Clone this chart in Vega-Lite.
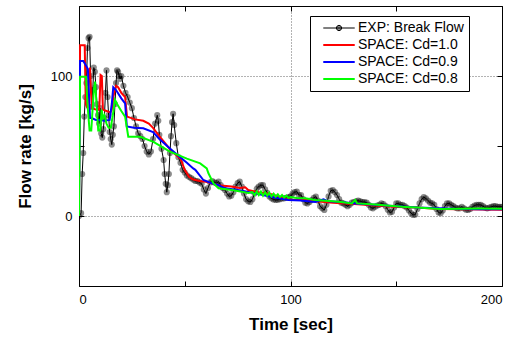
{
  "$schema": "https://vega.github.io/schema/vega-lite/v6.json",
  "width": 423,
  "height": 280,
  "autosize": "none",
  "padding": {"left": 79, "top": 6, "right": 17, "bottom": 51},
  "background": "white",
  "config": {
    "font": "Liberation Sans",
    "view": {"stroke": null},
    "axis": {
      "labelFont": "Liberation Sans",
      "labelFontSize": 13,
      "labelColor": "black",
      "titleFont": "Liberation Sans",
      "titleFontSize": 17,
      "titleFontWeight": "bold",
      "titleColor": "black",
      "domainColor": "black",
      "domainWidth": 1,
      "tickColor": "black",
      "tickSize": -5,
      "gridColor": "#666666",
      "gridDash": [1, 2],
      "gridWidth": 1
    },
    "legend": {
      "labelFont": "Liberation Sans",
      "labelFontSize": 14,
      "labelColor": "black"
    }
  },
  "datasets": {
    "exp": [
      {"t": 0, "y": 0, "series": "EXP: Break Flow"},
      {"t": 1, "y": 2, "series": "EXP: Break Flow"},
      {"t": 1.5, "y": 30, "series": "EXP: Break Flow"},
      {"t": 2, "y": 45, "series": "EXP: Break Flow"},
      {"t": 2.5, "y": 71, "series": "EXP: Break Flow"},
      {"t": 3, "y": 85, "series": "EXP: Break Flow"},
      {"t": 3.5, "y": 95, "series": "EXP: Break Flow"},
      {"t": 4, "y": 120, "series": "EXP: Break Flow"},
      {"t": 4.5, "y": 127, "series": "EXP: Break Flow"},
      {"t": 5, "y": 128, "series": "EXP: Break Flow"},
      {"t": 5.5, "y": 100, "series": "EXP: Break Flow"},
      {"t": 6, "y": 78, "series": "EXP: Break Flow"},
      {"t": 6.5, "y": 90, "series": "EXP: Break Flow"},
      {"t": 7, "y": 106, "series": "EXP: Break Flow"},
      {"t": 7.5, "y": 103, "series": "EXP: Break Flow"},
      {"t": 8, "y": 92, "series": "EXP: Break Flow"},
      {"t": 8.5, "y": 80, "series": "EXP: Break Flow"},
      {"t": 9, "y": 72, "series": "EXP: Break Flow"},
      {"t": 9.5, "y": 66, "series": "EXP: Break Flow"},
      {"t": 10, "y": 77, "series": "EXP: Break Flow"},
      {"t": 10.5, "y": 59, "series": "EXP: Break Flow"},
      {"t": 11, "y": 56, "series": "EXP: Break Flow"},
      {"t": 11.5, "y": 62, "series": "EXP: Break Flow"},
      {"t": 12, "y": 70, "series": "EXP: Break Flow"},
      {"t": 12.5, "y": 88, "series": "EXP: Break Flow"},
      {"t": 13, "y": 104, "series": "EXP: Break Flow"},
      {"t": 13.5, "y": 85, "series": "EXP: Break Flow"},
      {"t": 14, "y": 72, "series": "EXP: Break Flow"},
      {"t": 14.5, "y": 60, "series": "EXP: Break Flow"},
      {"t": 15, "y": 55, "series": "EXP: Break Flow"},
      {"t": 15.5, "y": 51, "series": "EXP: Break Flow"},
      {"t": 16, "y": 58, "series": "EXP: Break Flow"},
      {"t": 16.5, "y": 64, "series": "EXP: Break Flow"},
      {"t": 17, "y": 80, "series": "EXP: Break Flow"},
      {"t": 17.5, "y": 95, "series": "EXP: Break Flow"},
      {"t": 18, "y": 104, "series": "EXP: Break Flow"},
      {"t": 18.5, "y": 103, "series": "EXP: Break Flow"},
      {"t": 19, "y": 100, "series": "EXP: Break Flow"},
      {"t": 19.5, "y": 98, "series": "EXP: Break Flow"},
      {"t": 20, "y": 100, "series": "EXP: Break Flow"},
      {"t": 21, "y": 93, "series": "EXP: Break Flow"},
      {"t": 22, "y": 88, "series": "EXP: Break Flow"},
      {"t": 23, "y": 85, "series": "EXP: Break Flow"},
      {"t": 24, "y": 81, "series": "EXP: Break Flow"},
      {"t": 25, "y": 77, "series": "EXP: Break Flow"},
      {"t": 26, "y": 70, "series": "EXP: Break Flow"},
      {"t": 27, "y": 64, "series": "EXP: Break Flow"},
      {"t": 28, "y": 59, "series": "EXP: Break Flow"},
      {"t": 29, "y": 57, "series": "EXP: Break Flow"},
      {"t": 30, "y": 55, "series": "EXP: Break Flow"},
      {"t": 31, "y": 50, "series": "EXP: Break Flow"},
      {"t": 32, "y": 46, "series": "EXP: Break Flow"},
      {"t": 33, "y": 44, "series": "EXP: Break Flow"},
      {"t": 34, "y": 46, "series": "EXP: Break Flow"},
      {"t": 35, "y": 55, "series": "EXP: Break Flow"},
      {"t": 36, "y": 66, "series": "EXP: Break Flow"},
      {"t": 37, "y": 72, "series": "EXP: Break Flow"},
      {"t": 37.5, "y": 68, "series": "EXP: Break Flow"},
      {"t": 38, "y": 58, "series": "EXP: Break Flow"},
      {"t": 39, "y": 48, "series": "EXP: Break Flow"},
      {"t": 40, "y": 40, "series": "EXP: Break Flow"},
      {"t": 40.5, "y": 30, "series": "EXP: Break Flow"},
      {"t": 41, "y": 23, "series": "EXP: Break Flow"},
      {"t": 41.5, "y": 17, "series": "EXP: Break Flow"},
      {"t": 42, "y": 22, "series": "EXP: Break Flow"},
      {"t": 42.5, "y": 30, "series": "EXP: Break Flow"},
      {"t": 43, "y": 45, "series": "EXP: Break Flow"},
      {"t": 43.5, "y": 57, "series": "EXP: Break Flow"},
      {"t": 44, "y": 67, "series": "EXP: Break Flow"},
      {"t": 44.5, "y": 73, "series": "EXP: Break Flow"},
      {"t": 45, "y": 65, "series": "EXP: Break Flow"},
      {"t": 46, "y": 52, "series": "EXP: Break Flow"},
      {"t": 47, "y": 42, "series": "EXP: Break Flow"},
      {"t": 48, "y": 38, "series": "EXP: Break Flow"},
      {"t": 49, "y": 33, "series": "EXP: Break Flow"},
      {"t": 50, "y": 31, "series": "EXP: Break Flow"},
      {"t": 51, "y": 29, "series": "EXP: Break Flow"},
      {"t": 52, "y": 28, "series": "EXP: Break Flow"},
      {"t": 53, "y": 27, "series": "EXP: Break Flow"},
      {"t": 54, "y": 26, "series": "EXP: Break Flow"},
      {"t": 55, "y": 25, "series": "EXP: Break Flow"},
      {"t": 56, "y": 25, "series": "EXP: Break Flow"},
      {"t": 57, "y": 24, "series": "EXP: Break Flow"},
      {"t": 58, "y": 23, "series": "EXP: Break Flow"},
      {"t": 59, "y": 19, "series": "EXP: Break Flow"},
      {"t": 60, "y": 16, "series": "EXP: Break Flow"},
      {"t": 61, "y": 20, "series": "EXP: Break Flow"},
      {"t": 62, "y": 24, "series": "EXP: Break Flow"},
      {"t": 63, "y": 25, "series": "EXP: Break Flow"},
      {"t": 64, "y": 24, "series": "EXP: Break Flow"},
      {"t": 65, "y": 23.5, "series": "EXP: Break Flow"},
      {"t": 66, "y": 24.5, "series": "EXP: Break Flow"},
      {"t": 67, "y": 22, "series": "EXP: Break Flow"},
      {"t": 68, "y": 20, "series": "EXP: Break Flow"},
      {"t": 69, "y": 18.6, "series": "EXP: Break Flow"},
      {"t": 70, "y": 16, "series": "EXP: Break Flow"},
      {"t": 71, "y": 14, "series": "EXP: Break Flow"},
      {"t": 72, "y": 14.5, "series": "EXP: Break Flow"},
      {"t": 73, "y": 17, "series": "EXP: Break Flow"},
      {"t": 74, "y": 21, "series": "EXP: Break Flow"},
      {"t": 75, "y": 23.5, "series": "EXP: Break Flow"},
      {"t": 76, "y": 24.5, "series": "EXP: Break Flow"},
      {"t": 77, "y": 21, "series": "EXP: Break Flow"},
      {"t": 78, "y": 16, "series": "EXP: Break Flow"},
      {"t": 79, "y": 12, "series": "EXP: Break Flow"},
      {"t": 80, "y": 10.5, "series": "EXP: Break Flow"},
      {"t": 81, "y": 10, "series": "EXP: Break Flow"},
      {"t": 82, "y": 12, "series": "EXP: Break Flow"},
      {"t": 83, "y": 16, "series": "EXP: Break Flow"},
      {"t": 84, "y": 19.5, "series": "EXP: Break Flow"},
      {"t": 85, "y": 21, "series": "EXP: Break Flow"},
      {"t": 86, "y": 22, "series": "EXP: Break Flow"},
      {"t": 87, "y": 22, "series": "EXP: Break Flow"},
      {"t": 88, "y": 19, "series": "EXP: Break Flow"},
      {"t": 89, "y": 16.5, "series": "EXP: Break Flow"},
      {"t": 90, "y": 14, "series": "EXP: Break Flow"},
      {"t": 91, "y": 12.6, "series": "EXP: Break Flow"},
      {"t": 92, "y": 11.8, "series": "EXP: Break Flow"},
      {"t": 93, "y": 11.4, "series": "EXP: Break Flow"},
      {"t": 94, "y": 11.6, "series": "EXP: Break Flow"},
      {"t": 95, "y": 12, "series": "EXP: Break Flow"},
      {"t": 96, "y": 12.5, "series": "EXP: Break Flow"},
      {"t": 97, "y": 12.6, "series": "EXP: Break Flow"},
      {"t": 98, "y": 13, "series": "EXP: Break Flow"},
      {"t": 99, "y": 13.5, "series": "EXP: Break Flow"},
      {"t": 100, "y": 14, "series": "EXP: Break Flow"},
      {"t": 101, "y": 16, "series": "EXP: Break Flow"},
      {"t": 102, "y": 17, "series": "EXP: Break Flow"},
      {"t": 103, "y": 17.4, "series": "EXP: Break Flow"},
      {"t": 104, "y": 15, "series": "EXP: Break Flow"},
      {"t": 105, "y": 15, "series": "EXP: Break Flow"},
      {"t": 106, "y": 12, "series": "EXP: Break Flow"},
      {"t": 107, "y": 9.5, "series": "EXP: Break Flow"},
      {"t": 108, "y": 9, "series": "EXP: Break Flow"},
      {"t": 109, "y": 10, "series": "EXP: Break Flow"},
      {"t": 110, "y": 11.4, "series": "EXP: Break Flow"},
      {"t": 111, "y": 13, "series": "EXP: Break Flow"},
      {"t": 112, "y": 13.8, "series": "EXP: Break Flow"},
      {"t": 113, "y": 11, "series": "EXP: Break Flow"},
      {"t": 114, "y": 7, "series": "EXP: Break Flow"},
      {"t": 115, "y": 5.5, "series": "EXP: Break Flow"},
      {"t": 116, "y": 4.3, "series": "EXP: Break Flow"},
      {"t": 117, "y": 8, "series": "EXP: Break Flow"},
      {"t": 118, "y": 14, "series": "EXP: Break Flow"},
      {"t": 119, "y": 18, "series": "EXP: Break Flow"},
      {"t": 120, "y": 18.6, "series": "EXP: Break Flow"},
      {"t": 121, "y": 17, "series": "EXP: Break Flow"},
      {"t": 122, "y": 15, "series": "EXP: Break Flow"},
      {"t": 123, "y": 12, "series": "EXP: Break Flow"},
      {"t": 124, "y": 9.5, "series": "EXP: Break Flow"},
      {"t": 125, "y": 9, "series": "EXP: Break Flow"},
      {"t": 126, "y": 8, "series": "EXP: Break Flow"},
      {"t": 127, "y": 7, "series": "EXP: Break Flow"},
      {"t": 128, "y": 8, "series": "EXP: Break Flow"},
      {"t": 129, "y": 9.5, "series": "EXP: Break Flow"},
      {"t": 130, "y": 10, "series": "EXP: Break Flow"},
      {"t": 131, "y": 10.5, "series": "EXP: Break Flow"},
      {"t": 132, "y": 11, "series": "EXP: Break Flow"},
      {"t": 133, "y": 10.5, "series": "EXP: Break Flow"},
      {"t": 134, "y": 10, "series": "EXP: Break Flow"},
      {"t": 135, "y": 10, "series": "EXP: Break Flow"},
      {"t": 136, "y": 9.5, "series": "EXP: Break Flow"},
      {"t": 137, "y": 8, "series": "EXP: Break Flow"},
      {"t": 138, "y": 6, "series": "EXP: Break Flow"},
      {"t": 139, "y": 5.5, "series": "EXP: Break Flow"},
      {"t": 140, "y": 6.6, "series": "EXP: Break Flow"},
      {"t": 141, "y": 7.5, "series": "EXP: Break Flow"},
      {"t": 142, "y": 8, "series": "EXP: Break Flow"},
      {"t": 143, "y": 9, "series": "EXP: Break Flow"},
      {"t": 144, "y": 8.5, "series": "EXP: Break Flow"},
      {"t": 145, "y": 7, "series": "EXP: Break Flow"},
      {"t": 146, "y": 4.5, "series": "EXP: Break Flow"},
      {"t": 147, "y": 2.5, "series": "EXP: Break Flow"},
      {"t": 148, "y": 3, "series": "EXP: Break Flow"},
      {"t": 149, "y": 6, "series": "EXP: Break Flow"},
      {"t": 150, "y": 9, "series": "EXP: Break Flow"},
      {"t": 151, "y": 9, "series": "EXP: Break Flow"},
      {"t": 152, "y": 8, "series": "EXP: Break Flow"},
      {"t": 153, "y": 7.9, "series": "EXP: Break Flow"},
      {"t": 154, "y": 7, "series": "EXP: Break Flow"},
      {"t": 155, "y": 6, "series": "EXP: Break Flow"},
      {"t": 156, "y": 4, "series": "EXP: Break Flow"},
      {"t": 157, "y": 2, "series": "EXP: Break Flow"},
      {"t": 158, "y": 0.8, "series": "EXP: Break Flow"},
      {"t": 159, "y": 1, "series": "EXP: Break Flow"},
      {"t": 160, "y": 5, "series": "EXP: Break Flow"},
      {"t": 161, "y": 9, "series": "EXP: Break Flow"},
      {"t": 162, "y": 12, "series": "EXP: Break Flow"},
      {"t": 163, "y": 13.5, "series": "EXP: Break Flow"},
      {"t": 164, "y": 12.6, "series": "EXP: Break Flow"},
      {"t": 165, "y": 11, "series": "EXP: Break Flow"},
      {"t": 166, "y": 9.5, "series": "EXP: Break Flow"},
      {"t": 167, "y": 9, "series": "EXP: Break Flow"},
      {"t": 168, "y": 8, "series": "EXP: Break Flow"},
      {"t": 169, "y": 5, "series": "EXP: Break Flow"},
      {"t": 170, "y": 2.5, "series": "EXP: Break Flow"},
      {"t": 171, "y": 2, "series": "EXP: Break Flow"},
      {"t": 172, "y": 4, "series": "EXP: Break Flow"},
      {"t": 173, "y": 7, "series": "EXP: Break Flow"},
      {"t": 174, "y": 9, "series": "EXP: Break Flow"},
      {"t": 175, "y": 9, "series": "EXP: Break Flow"},
      {"t": 176, "y": 8, "series": "EXP: Break Flow"},
      {"t": 177, "y": 7, "series": "EXP: Break Flow"},
      {"t": 178, "y": 6, "series": "EXP: Break Flow"},
      {"t": 179, "y": 5.5, "series": "EXP: Break Flow"},
      {"t": 180, "y": 5.5, "series": "EXP: Break Flow"},
      {"t": 181, "y": 6.6, "series": "EXP: Break Flow"},
      {"t": 182, "y": 5.5, "series": "EXP: Break Flow"},
      {"t": 183, "y": 4.5, "series": "EXP: Break Flow"},
      {"t": 184, "y": 4.3, "series": "EXP: Break Flow"},
      {"t": 185, "y": 5, "series": "EXP: Break Flow"},
      {"t": 186, "y": 6.5, "series": "EXP: Break Flow"},
      {"t": 187, "y": 7.5, "series": "EXP: Break Flow"},
      {"t": 188, "y": 8, "series": "EXP: Break Flow"},
      {"t": 189, "y": 8, "series": "EXP: Break Flow"},
      {"t": 190, "y": 7.9, "series": "EXP: Break Flow"},
      {"t": 191, "y": 7, "series": "EXP: Break Flow"},
      {"t": 192, "y": 6, "series": "EXP: Break Flow"},
      {"t": 193, "y": 5.5, "series": "EXP: Break Flow"},
      {"t": 194, "y": 6, "series": "EXP: Break Flow"},
      {"t": 195, "y": 6.6, "series": "EXP: Break Flow"},
      {"t": 196, "y": 7, "series": "EXP: Break Flow"},
      {"t": 197, "y": 7, "series": "EXP: Break Flow"},
      {"t": 198, "y": 6.6, "series": "EXP: Break Flow"},
      {"t": 199, "y": 6.6, "series": "EXP: Break Flow"},
      {"t": 200, "y": 6.6, "series": "EXP: Break Flow"}
    ],
    "sim": [
      {"t": 0, "y": 0, "series": "SPACE: Cd=1.0"},
      {"t": 0.5, "y": 122, "series": "SPACE: Cd=1.0"},
      {"t": 2.7, "y": 122, "series": "SPACE: Cd=1.0"},
      {"t": 3.2, "y": 80, "series": "SPACE: Cd=1.0"},
      {"t": 4.0, "y": 77, "series": "SPACE: Cd=1.0"},
      {"t": 4.6, "y": 100, "series": "SPACE: Cd=1.0"},
      {"t": 5.2, "y": 106, "series": "SPACE: Cd=1.0"},
      {"t": 5.6, "y": 90, "series": "SPACE: Cd=1.0"},
      {"t": 6.2, "y": 77, "series": "SPACE: Cd=1.0"},
      {"t": 8, "y": 76, "series": "SPACE: Cd=1.0"},
      {"t": 9.6, "y": 76, "series": "SPACE: Cd=1.0"},
      {"t": 10.2, "y": 100.7, "series": "SPACE: Cd=1.0"},
      {"t": 10.8, "y": 100, "series": "SPACE: Cd=1.0"},
      {"t": 11.3, "y": 76, "series": "SPACE: Cd=1.0"},
      {"t": 13, "y": 75, "series": "SPACE: Cd=1.0"},
      {"t": 14.8, "y": 74, "series": "SPACE: Cd=1.0"},
      {"t": 15.5, "y": 76, "series": "SPACE: Cd=1.0"},
      {"t": 16.2, "y": 85, "series": "SPACE: Cd=1.0"},
      {"t": 17.5, "y": 93, "series": "SPACE: Cd=1.0"},
      {"t": 18.5, "y": 92, "series": "SPACE: Cd=1.0"},
      {"t": 20, "y": 88, "series": "SPACE: Cd=1.0"},
      {"t": 21.8, "y": 85, "series": "SPACE: Cd=1.0"},
      {"t": 22.7, "y": 71, "series": "SPACE: Cd=1.0"},
      {"t": 26.5, "y": 69, "series": "SPACE: Cd=1.0"},
      {"t": 30.4, "y": 68, "series": "SPACE: Cd=1.0"},
      {"t": 33, "y": 66, "series": "SPACE: Cd=1.0"},
      {"t": 35, "y": 63, "series": "SPACE: Cd=1.0"},
      {"t": 38, "y": 57, "series": "SPACE: Cd=1.0"},
      {"t": 40.7, "y": 52, "series": "SPACE: Cd=1.0"},
      {"t": 43.9, "y": 46, "series": "SPACE: Cd=1.0"},
      {"t": 48, "y": 41, "series": "SPACE: Cd=1.0"},
      {"t": 50, "y": 33, "series": "SPACE: Cd=1.0"},
      {"t": 52, "y": 28, "series": "SPACE: Cd=1.0"},
      {"t": 54, "y": 26, "series": "SPACE: Cd=1.0"},
      {"t": 57, "y": 25, "series": "SPACE: Cd=1.0"},
      {"t": 60, "y": 24.5, "series": "SPACE: Cd=1.0"},
      {"t": 66, "y": 22, "series": "SPACE: Cd=1.0"},
      {"t": 72, "y": 21, "series": "SPACE: Cd=1.0"},
      {"t": 76, "y": 20, "series": "SPACE: Cd=1.0"},
      {"t": 78.6, "y": 20.5, "series": "SPACE: Cd=1.0"},
      {"t": 80, "y": 18.5, "series": "SPACE: Cd=1.0"},
      {"t": 85, "y": 17, "series": "SPACE: Cd=1.0"},
      {"t": 91, "y": 15.5, "series": "SPACE: Cd=1.0"},
      {"t": 96, "y": 13, "series": "SPACE: Cd=1.0"},
      {"t": 100.6, "y": 11.4, "series": "SPACE: Cd=1.0"},
      {"t": 107, "y": 12, "series": "SPACE: Cd=1.0"},
      {"t": 112, "y": 10.5, "series": "SPACE: Cd=1.0"},
      {"t": 120, "y": 9.5, "series": "SPACE: Cd=1.0"},
      {"t": 130, "y": 8.5, "series": "SPACE: Cd=1.0"},
      {"t": 140, "y": 7.5, "series": "SPACE: Cd=1.0"},
      {"t": 150, "y": 6.5, "series": "SPACE: Cd=1.0"},
      {"t": 160, "y": 6, "series": "SPACE: Cd=1.0"},
      {"t": 170, "y": 5, "series": "SPACE: Cd=1.0"},
      {"t": 180, "y": 4.8, "series": "SPACE: Cd=1.0"},
      {"t": 190, "y": 4.6, "series": "SPACE: Cd=1.0"},
      {"t": 200, "y": 4.5, "series": "SPACE: Cd=1.0"},

      {"t": 0, "y": 0, "series": "SPACE: Cd=0.9"},
      {"t": 0.5, "y": 110.7, "series": "SPACE: Cd=0.9"},
      {"t": 2.0, "y": 110.7, "series": "SPACE: Cd=0.9"},
      {"t": 3.5, "y": 107, "series": "SPACE: Cd=0.9"},
      {"t": 4.2, "y": 105, "series": "SPACE: Cd=0.9"},
      {"t": 5.2, "y": 70, "series": "SPACE: Cd=0.9"},
      {"t": 6, "y": 70, "series": "SPACE: Cd=0.9"},
      {"t": 8, "y": 68.6, "series": "SPACE: Cd=0.9"},
      {"t": 10, "y": 68.6, "series": "SPACE: Cd=0.9"},
      {"t": 12, "y": 68, "series": "SPACE: Cd=0.9"},
      {"t": 14.5, "y": 68.6, "series": "SPACE: Cd=0.9"},
      {"t": 15.5, "y": 80, "series": "SPACE: Cd=0.9"},
      {"t": 16.2, "y": 92, "series": "SPACE: Cd=0.9"},
      {"t": 17.5, "y": 90, "series": "SPACE: Cd=0.9"},
      {"t": 20, "y": 84, "series": "SPACE: Cd=0.9"},
      {"t": 21.8, "y": 80.5, "series": "SPACE: Cd=0.9"},
      {"t": 22.6, "y": 64, "series": "SPACE: Cd=0.9"},
      {"t": 26, "y": 63, "series": "SPACE: Cd=0.9"},
      {"t": 30.4, "y": 62.6, "series": "SPACE: Cd=0.9"},
      {"t": 35, "y": 60, "series": "SPACE: Cd=0.9"},
      {"t": 38, "y": 55, "series": "SPACE: Cd=0.9"},
      {"t": 43, "y": 48.3, "series": "SPACE: Cd=0.9"},
      {"t": 47, "y": 43, "series": "SPACE: Cd=0.9"},
      {"t": 51, "y": 38, "series": "SPACE: Cd=0.9"},
      {"t": 54, "y": 34, "series": "SPACE: Cd=0.9"},
      {"t": 55, "y": 33, "series": "SPACE: Cd=0.9"},
      {"t": 58.8, "y": 25.7, "series": "SPACE: Cd=0.9"},
      {"t": 62.8, "y": 23.3, "series": "SPACE: Cd=0.9"},
      {"t": 66, "y": 22, "series": "SPACE: Cd=0.9"},
      {"t": 69, "y": 19.8, "series": "SPACE: Cd=0.9"},
      {"t": 75, "y": 18.5, "series": "SPACE: Cd=0.9"},
      {"t": 83.3, "y": 16.2, "series": "SPACE: Cd=0.9"},
      {"t": 90, "y": 14, "series": "SPACE: Cd=0.9"},
      {"t": 99, "y": 11.4, "series": "SPACE: Cd=0.9"},
      {"t": 105, "y": 11, "series": "SPACE: Cd=0.9"},
      {"t": 111.7, "y": 10, "series": "SPACE: Cd=0.9"},
      {"t": 115.6, "y": 12, "series": "SPACE: Cd=0.9"},
      {"t": 118, "y": 10.5, "series": "SPACE: Cd=0.9"},
      {"t": 125, "y": 9.8, "series": "SPACE: Cd=0.9"},
      {"t": 130.6, "y": 9, "series": "SPACE: Cd=0.9"},
      {"t": 140, "y": 8, "series": "SPACE: Cd=0.9"},
      {"t": 150, "y": 7, "series": "SPACE: Cd=0.9"},
      {"t": 160, "y": 6, "series": "SPACE: Cd=0.9"},
      {"t": 170, "y": 5.5, "series": "SPACE: Cd=0.9"},
      {"t": 180, "y": 5, "series": "SPACE: Cd=0.9"},
      {"t": 190, "y": 4.8, "series": "SPACE: Cd=0.9"},
      {"t": 200, "y": 4.8, "series": "SPACE: Cd=0.9"},

      {"t": 0, "y": 0, "series": "SPACE: Cd=0.8"},
      {"t": 0.5, "y": 99.5, "series": "SPACE: Cd=0.8"},
      {"t": 3.3, "y": 99.5, "series": "SPACE: Cd=0.8"},
      {"t": 4.0, "y": 80, "series": "SPACE: Cd=0.8"},
      {"t": 5.0, "y": 61, "series": "SPACE: Cd=0.8"},
      {"t": 5.8, "y": 61, "series": "SPACE: Cd=0.8"},
      {"t": 7.0, "y": 90, "series": "SPACE: Cd=0.8"},
      {"t": 7.6, "y": 96, "series": "SPACE: Cd=0.8"},
      {"t": 8.3, "y": 80, "series": "SPACE: Cd=0.8"},
      {"t": 9.1, "y": 61, "series": "SPACE: Cd=0.8"},
      {"t": 10, "y": 61, "series": "SPACE: Cd=0.8"},
      {"t": 10.7, "y": 76, "series": "SPACE: Cd=0.8"},
      {"t": 11.3, "y": 70, "series": "SPACE: Cd=0.8"},
      {"t": 12, "y": 72, "series": "SPACE: Cd=0.8"},
      {"t": 13, "y": 66, "series": "SPACE: Cd=0.8"},
      {"t": 14, "y": 63, "series": "SPACE: Cd=0.8"},
      {"t": 15, "y": 63, "series": "SPACE: Cd=0.8"},
      {"t": 16, "y": 72, "series": "SPACE: Cd=0.8"},
      {"t": 17, "y": 83, "series": "SPACE: Cd=0.8"},
      {"t": 18, "y": 80, "series": "SPACE: Cd=0.8"},
      {"t": 20, "y": 75, "series": "SPACE: Cd=0.8"},
      {"t": 21.8, "y": 71, "series": "SPACE: Cd=0.8"},
      {"t": 23.3, "y": 56.6, "series": "SPACE: Cd=0.8"},
      {"t": 28.9, "y": 56.6, "series": "SPACE: Cd=0.8"},
      {"t": 35.2, "y": 53, "series": "SPACE: Cd=0.8"},
      {"t": 43, "y": 46, "series": "SPACE: Cd=0.8"},
      {"t": 51, "y": 41, "series": "SPACE: Cd=0.8"},
      {"t": 57.3, "y": 37.6, "series": "SPACE: Cd=0.8"},
      {"t": 60.4, "y": 34, "series": "SPACE: Cd=0.8"},
      {"t": 61.2, "y": 30.5, "series": "SPACE: Cd=0.8"},
      {"t": 63.6, "y": 23.3, "series": "SPACE: Cd=0.8"},
      {"t": 66, "y": 19.8, "series": "SPACE: Cd=0.8"},
      {"t": 72.3, "y": 18.6, "series": "SPACE: Cd=0.8"},
      {"t": 77, "y": 17.4, "series": "SPACE: Cd=0.8"},
      {"t": 80, "y": 16.5, "series": "SPACE: Cd=0.8"},
      {"t": 82, "y": 17, "series": "SPACE: Cd=0.8"},
      {"t": 83, "y": 15, "series": "SPACE: Cd=0.8"},
      {"t": 84, "y": 17.5, "series": "SPACE: Cd=0.8"},
      {"t": 85, "y": 15, "series": "SPACE: Cd=0.8"},
      {"t": 86, "y": 17.5, "series": "SPACE: Cd=0.8"},
      {"t": 87, "y": 14.5, "series": "SPACE: Cd=0.8"},
      {"t": 88, "y": 17, "series": "SPACE: Cd=0.8"},
      {"t": 89, "y": 14.5, "series": "SPACE: Cd=0.8"},
      {"t": 90, "y": 16.5, "series": "SPACE: Cd=0.8"},
      {"t": 91, "y": 14, "series": "SPACE: Cd=0.8"},
      {"t": 92, "y": 16, "series": "SPACE: Cd=0.8"},
      {"t": 93, "y": 13.8, "series": "SPACE: Cd=0.8"},
      {"t": 94, "y": 15.5, "series": "SPACE: Cd=0.8"},
      {"t": 95, "y": 13.5, "series": "SPACE: Cd=0.8"},
      {"t": 96, "y": 15, "series": "SPACE: Cd=0.8"},
      {"t": 97, "y": 13.2, "series": "SPACE: Cd=0.8"},
      {"t": 98, "y": 14.5, "series": "SPACE: Cd=0.8"},
      {"t": 99, "y": 13, "series": "SPACE: Cd=0.8"},
      {"t": 100, "y": 13.5, "series": "SPACE: Cd=0.8"},
      {"t": 103, "y": 12.8, "series": "SPACE: Cd=0.8"},
      {"t": 107, "y": 12.6, "series": "SPACE: Cd=0.8"},
      {"t": 111.7, "y": 11.4, "series": "SPACE: Cd=0.8"},
      {"t": 114.9, "y": 11, "series": "SPACE: Cd=0.8"},
      {"t": 120, "y": 10.5, "series": "SPACE: Cd=0.8"},
      {"t": 125, "y": 9.8, "series": "SPACE: Cd=0.8"},
      {"t": 129, "y": 9, "series": "SPACE: Cd=0.8"},
      {"t": 130.6, "y": 11.5, "series": "SPACE: Cd=0.8"},
      {"t": 131.5, "y": 9, "series": "SPACE: Cd=0.8"},
      {"t": 140, "y": 8.2, "series": "SPACE: Cd=0.8"},
      {"t": 150, "y": 7, "series": "SPACE: Cd=0.8"},
      {"t": 154.3, "y": 6.5, "series": "SPACE: Cd=0.8"},
      {"t": 160, "y": 6, "series": "SPACE: Cd=0.8"},
      {"t": 170.8, "y": 5, "series": "SPACE: Cd=0.8"},
      {"t": 180, "y": 5.2, "series": "SPACE: Cd=0.8"},
      {"t": 190, "y": 5.3, "series": "SPACE: Cd=0.8"},
      {"t": 200, "y": 5.2, "series": "SPACE: Cd=0.8"}
    ]
  },
  "layer": [
    {
      "data": {"name": "exp"},
      "mark": {"type": "line", "strokeWidth": 1, "clip": true},
      "encoding": {
        "x": {
          "field": "t", "type": "quantitative",
          "scale": {"domain": [0, 200], "nice": false},
          "axis": {
            "orient": "bottom",
            "title": "Time [sec]",
            "values": [0, 50, 100, 150, 200],
            "labelExpr": "datum.value % 100 === 0 ? datum.label : ''",
            "labelPadding": 12,
            "titlePadding": 10,
            "grid": true,
            "gridOpacity": {"condition": {"test": "datum.value === 100", "value": 1}, "value": 0}
          }
        },
        "y": {
          "field": "y", "type": "quantitative",
          "scale": {"domain": [-50, 150], "nice": false},
          "axis": {
            "orient": "left",
            "title": "Flow rate [kg/s]",
            "values": [-50, 0, 50, 100, 150],
            "labelExpr": "datum.value % 100 === 0 ? datum.label : ''",
            "labelPadding": 12,
            "titlePadding": 16,
            "grid": true,
            "gridOpacity": {"condition": {"test": "datum.value === 0 || datum.value === 100", "value": 1}, "value": 0}
          }
        },
        "color": {
          "field": "series", "type": "nominal",
          "scale": {
            "domain": ["EXP: Break Flow", "SPACE: Cd=1.0", "SPACE: Cd=0.9", "SPACE: Cd=0.8"],
            "range": ["#000000", "#ff0000", "#0000ff", "#00ff00"]
          },
          "legend": {
            "title": null,
            "orient": "none",
            "legendX": 231,
            "legendY": 10,
            "strokeColor": "black",
            "fillColor": "white",
            "padding": 5,
            "symbolType": "M-3,0H3",
            "symbolSize": 110,
            "symbolStrokeWidth": 2,
            "symbolOffset": 17,
            "labelOffset": 12,
            "rowPadding": 3,
            "labelFontSize": 14,
            "encode": {
              "symbols": {
                "update": {
                  "shape": {"signal": "datum.value === 'EXP: Break Flow' ? 'M-3,0H3M-0.5,0A0.5,0.5 0 1,0 0.5,0A0.5,0.5 0 1,0 -0.5,0' : 'M-3,0H3'"},
                  "strokeWidth": {"signal": "datum.value === 'EXP: Break Flow' ? 1 : 2"},
                  "fill": {"signal": "datum.value === 'EXP: Break Flow' ? '#888888' : 'transparent'"}
                }
              }
            }
          }
        }
      }
    },
    {
      "data": {"name": "exp"},
      "mark": {"type": "point", "filled": true, "color": "#000000", "opacity": 0.45, "size": 38, "strokeWidth": 0, "clip": true},
      "encoding": {
        "x": {"field": "t", "type": "quantitative", "axis": null},
        "y": {"field": "y", "type": "quantitative", "axis": null}
      }
    },
    {
      "data": {"name": "sim"},
      "mark": {"type": "line", "strokeWidth": 2, "clip": true},
      "encoding": {
        "x": {"field": "t", "type": "quantitative", "axis": null},
        "y": {"field": "y", "type": "quantitative", "axis": null},
        "color": {"field": "series", "type": "nominal"}
      }
    },
    {
      "data": {"name": "sim"},
      "mark": {"type": "line", "opacity": 0},
      "encoding": {
        "x": {
          "field": "t", "type": "quantitative",
          "axis": {"orient": "top", "title": null, "labels": false, "values": [0, 50, 100, 150, 200], "grid": false}
        },
        "y": {
          "field": "y", "type": "quantitative",
          "axis": {"orient": "right", "title": null, "labels": false, "values": [-50, 0, 50, 100, 150], "grid": false}
        }
      }
    }
  ],
  "resolve": {"axis": {"x": "independent", "y": "independent"}}
}
